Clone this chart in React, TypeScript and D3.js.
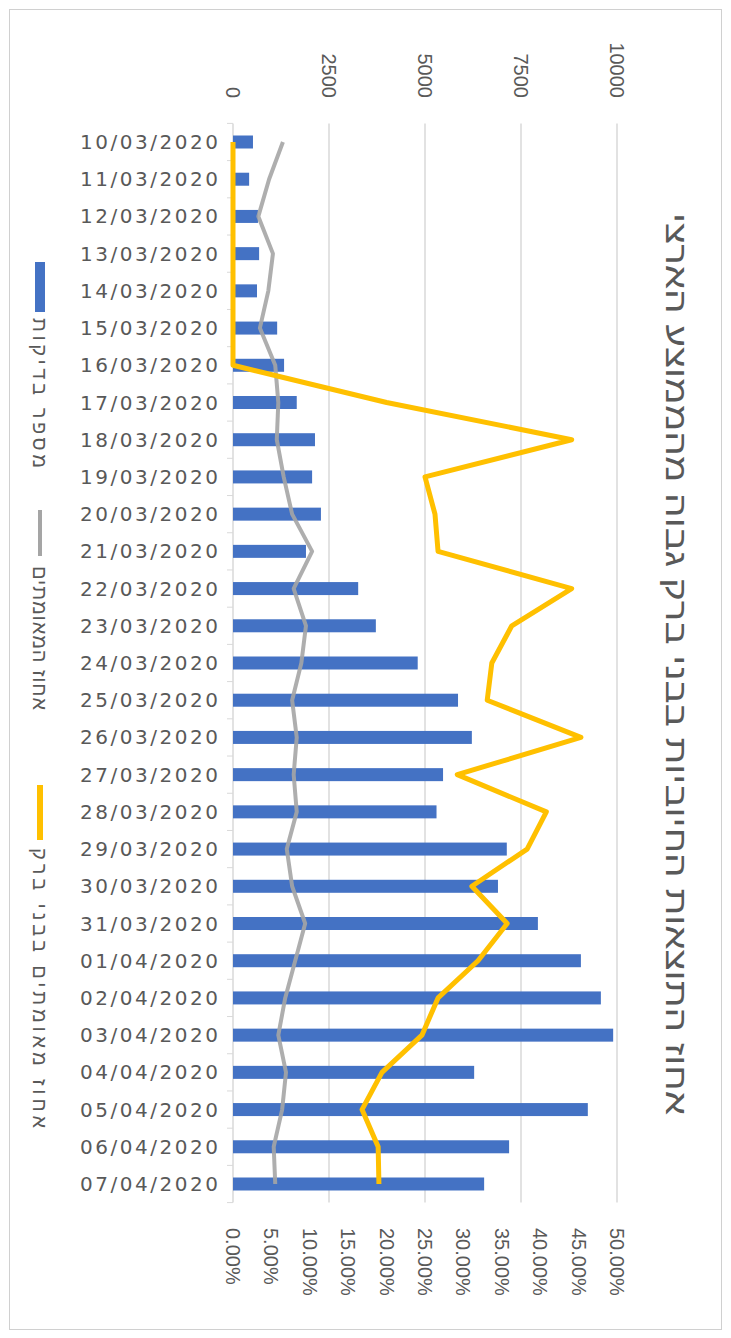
import * as d3 from "d3";

const dates = [
  "10/03/2020", "11/03/2020", "12/03/2020", "13/03/2020", "14/03/2020",
  "15/03/2020", "16/03/2020", "17/03/2020", "18/03/2020", "19/03/2020",
  "20/03/2020", "21/03/2020", "22/03/2020", "23/03/2020", "24/03/2020",
  "25/03/2020", "26/03/2020", "27/03/2020", "28/03/2020", "29/03/2020",
  "30/03/2020", "31/03/2020", "01/04/2020", "02/04/2020", "03/04/2020",
  "04/04/2020", "05/04/2020", "06/04/2020", "07/04/2020",
];

// מספר בדיקות
const tests = [
  520, 420, 650, 680, 625, 1150, 1330, 1660, 2135, 2060,
  2290, 1900, 3260, 3720, 4810, 5860, 6220, 5470, 5300, 7130,
  6900, 7940, 9060, 9580, 9900, 6280, 9240, 7190, 6540,
];

// אחוז המאומתים (ארצי)
const nationalPct = [
  0.065, 0.047, 0.033, 0.052, 0.046, 0.035, 0.055, 0.059, 0.057, 0.066,
  0.077, 0.103, 0.079, 0.095, 0.089, 0.077, 0.083, 0.079, 0.083, 0.07,
  0.077, 0.094, 0.081, 0.068, 0.059, 0.069, 0.064, 0.053, 0.055,
];

// אחוז מאומתים בבני ברק
const bneiBrakPct = [
  0, 0, 0, 0, 0, 0, 0, 0.2, 0.441, 0.25,
  0.263, 0.267, 0.441, 0.363, 0.337, 0.331, 0.453, 0.292, 0.408, 0.383,
  0.311, 0.357, 0.319, 0.267, 0.246, 0.194, 0.168, 0.189, 0.19,
];

const countTicks = [0, 2500, 5000, 7500, 10000];
const pctTicks = [0, 0.05, 0.1, 0.15, 0.2, 0.25, 0.3, 0.35, 0.4, 0.45, 0.5];

const title = "אחוז התוצאות החיוביות בבני ברק גבוה מהממוצע הארצי";
const legendLabels = ["מספר בדיקות", "אחוז המאומתים", "אחוז מאומתים בבני ברק"];

const width = 731;
const height = 1338;
const textColor = "#595959";
const gridColor = "#d9d9d9";
const font = "'Liberation Sans', 'DejaVu Sans', sans-serif";

export default function App() {
  const y = d3.scalePoint(dates, [142, 1184]);
  const step = y.step();
  const x = d3.scaleLinear([0, 10000], [233, 617]);
  const x2 = d3.scaleLinear([0, 0.5], [233, 617]);
  const top = 142 - step / 2;
  const bottom = 1184 + step / 2;
  const barH = 13;
  const pctFmt = d3.format(".2%");

  const line = (vals: number[]) =>
    d3.line<number>((d) => x2(d), (_d, i) => y(dates[i])!)(vals) || "";

  return (
    <svg
      width={width}
      height={height}
      style={{ position: "absolute", left: 0, top: 0, fontFamily: font }}
    >
      <rect x={0} y={0} width={width} height={height} fill="white" />
      <rect x={9.5} y={9.5} width={712} height={1320} fill="white" stroke="#d0d0d0" />

      {/* gridlines */}
      {countTicks.slice(1).map((t) => (
        <line key={t} x1={x(t)} x2={x(t)} y1={top} y2={bottom} stroke={gridColor} strokeWidth={1.5} />
      ))}
      <line x1={x(0)} x2={x(0)} y1={top} y2={bottom} stroke={gridColor} strokeWidth={1.5} />
      {d3.range(dates.length + 1).map((i) => (
        <line key={i} x1={x(0) - 6} x2={x(0)} y1={top + i * step} y2={top + i * step} stroke={gridColor} />
      ))}

      {/* top axis */}
      {countTicks.map((t) => (
        <text
          key={t}
          transform={`translate(${x(t)},98) rotate(90)`}
          textAnchor="end"
          dominantBaseline="central"
          fontSize={20}
          fill={textColor}
        >
          {t}
        </text>
      ))}

      {/* bottom axis */}
      {pctTicks.map((t) => (
        <text
          key={t}
          transform={`translate(${x2(t)},1228) rotate(90)`}
          textAnchor="start"
          dominantBaseline="central"
          fontSize={20}
          fill={textColor}
        >
          {pctFmt(t)}
        </text>
      ))}

      {/* category labels */}
      {dates.map((d) => (
        <text
          key={d}
          x={218}
          y={y(d)}
          textAnchor="end"
          dominantBaseline="central"
          fontSize={20}
          fontFamily="'DejaVu Sans', sans-serif"
          textLength={138}
          lengthAdjust="spacing"
          fill={textColor}
        >
          {d}
        </text>
      ))}

      {/* bars */}
      {tests.map((v, i) => (
        <rect
          key={i}
          x={x(0)}
          y={y(dates[i])! - barH / 2}
          width={x(v) - x(0)}
          height={barH}
          fill="#4472C4"
        />
      ))}

      <path d={line(nationalPct)} fill="none" stroke="#A5A5A5" strokeWidth={4} strokeLinejoin="round" opacity={0.9} />
      <path d={line(bneiBrakPct)} fill="none" stroke="#FFC000" strokeWidth={5} strokeLinejoin="round" />

      {/* title */}
      <text
        transform="translate(676,664) rotate(90)"
        textAnchor="middle"
        dominantBaseline="central"
        fontSize={30}
        textLength={902}
        lengthAdjust="spacingAndGlyphs"
        fill={textColor}
      >
        {title}
      </text>

      {/* legend */}
      <rect x={35} y={262} width={10} height={50} fill="#4472C4" />
      <text transform="translate(40,318) rotate(90)" dominantBaseline="central" fontSize={20} textLength={150} fill={textColor}>
        {legendLabels[0]}
      </text>
      <line x1={40} x2={40} y1={510} y2={556} stroke="#A5A5A5" strokeWidth={4} />
      <text transform="translate(40,566) rotate(90)" dominantBaseline="central" fontSize={20} textLength={144} fill={textColor}>
        {legendLabels[1]}
      </text>
      <line x1={40} x2={40} y1={785} y2={840} stroke="#FFC000" strokeWidth={6} />
      <text transform="translate(40,848) rotate(90)" dominantBaseline="central" fontSize={20} textLength={280} fill={textColor}>
        {legendLabels[2]}
      </text>
    </svg>
  );
}
